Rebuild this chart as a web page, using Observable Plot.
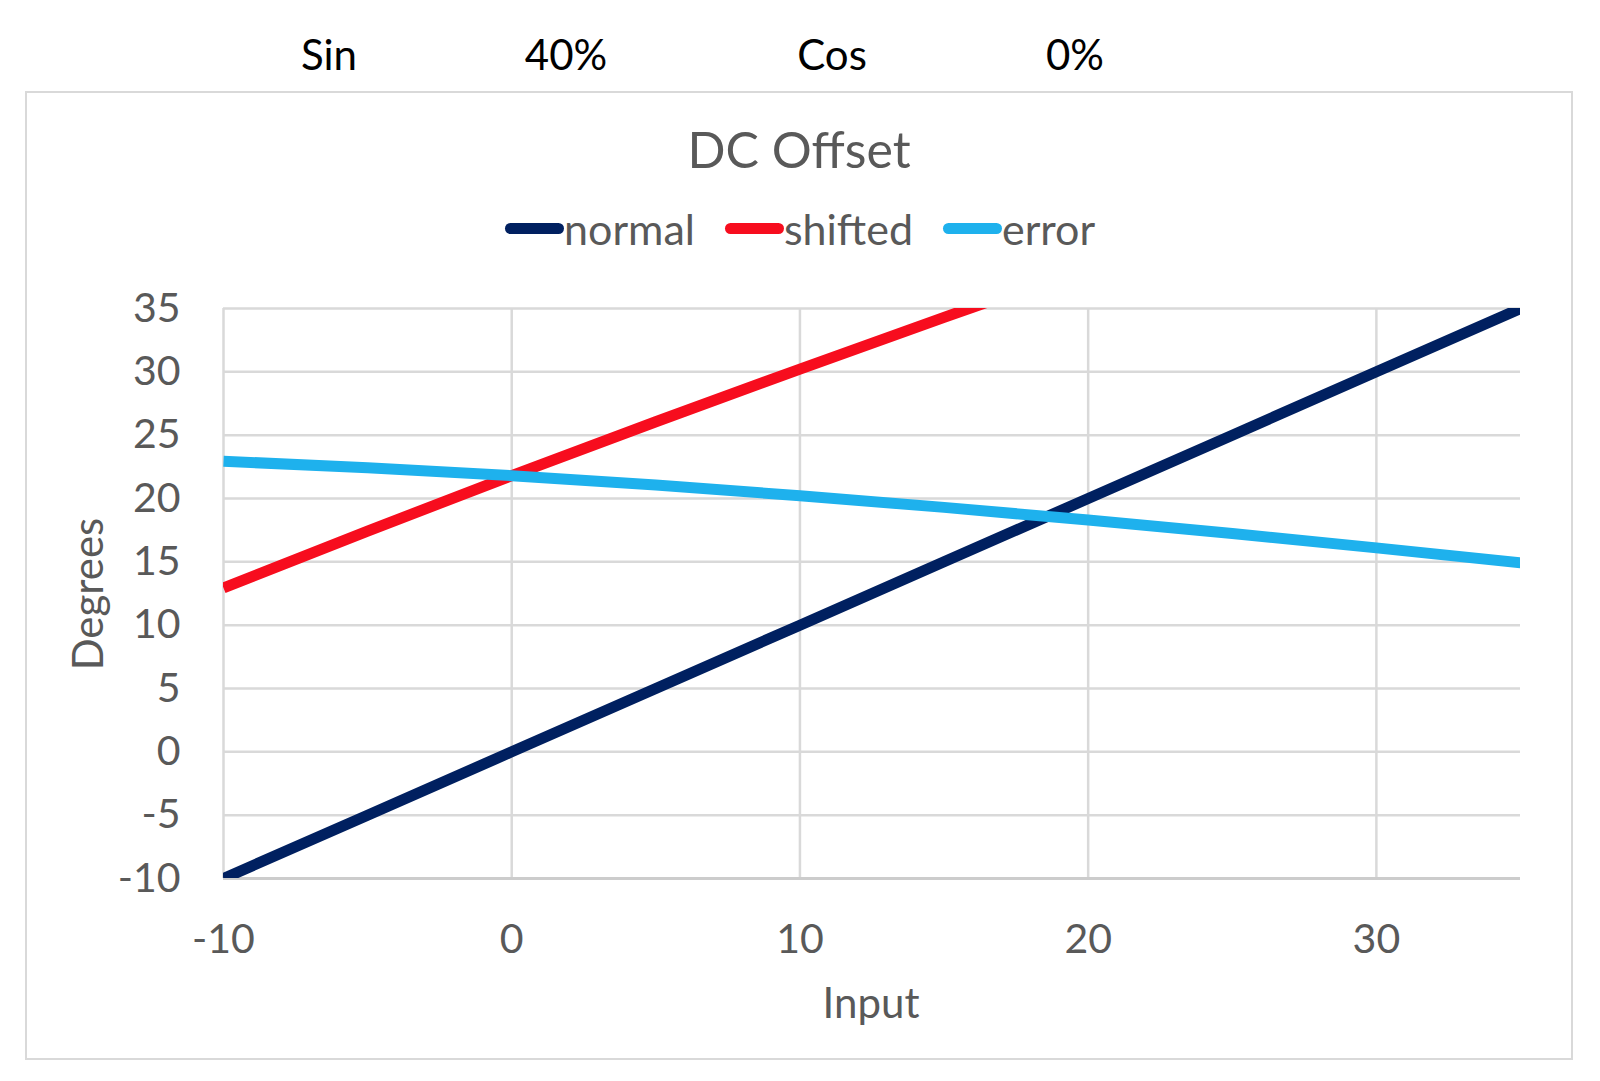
<!DOCTYPE html>
<html>
<head>
<meta charset="utf-8">
<script src="https://cdn.jsdelivr.net/npm/d3@7"></script>
<script src="https://cdn.jsdelivr.net/npm/@observablehq/plot@0.6"></script>
<style>
  html, body { margin: 0; padding: 0; background: #fff; }
  #wrap { position: relative; width: 1600px; height: 1081px; overflow: hidden; font-family: Lato, "Open Sans", sans-serif; }
  .cell { position: absolute; top: 29px; font-size: 42px; color: #000; transform: translateX(-50%); white-space: nowrap; }
  #box { position: absolute; left: 25px; top: 91px; width: 1548px; height: 969px; border: 2.5px solid #d9d9d9; box-sizing: border-box; }
  #title { position: absolute; top: 119px; left: 799px; transform: translateX(-50%); font-size: 50px; color: #595959; white-space: nowrap; }
  #legend { position: absolute; top: 203px; left: 505px; display: flex; align-items: center; font-size: 43px; color: #595959; white-space: nowrap; }
  .sw { display: inline-block; width: 59px; height: 11px; border-radius: 6px; }
  .item { display: flex; align-items: center; margin-right: 30px; }
  .axt { position: absolute; font-size: 42px; color: #595959; white-space: nowrap; line-height: 1; }
  #ylab { left: 87px; top: 594px; transform: translate(-50%, -50%) rotate(-90deg); }
  #xlab { left: 871px; top: 1002px; transform: translate(-50%, -50%); }
  #chart { position: absolute; left: 0; top: 0; }
</style>
</head>
<body>
<div id="wrap">
  <div id="box"></div>
  <div id="cells"></div>
  <div id="title">DC Offset</div>
  <div id="legend"></div>
  <div id="chart"></div>
  <div class="axt" id="ylab">Degrees</div>
  <div class="axt" id="xlab">Input</div>
</div>
<script>
// Top cells
const cellLabels = ["Sin", "40%", "Cos", "0%"];
const cellCenters = [329, 566, 832, 1075];

// Series
const seriesNames = ["normal", "shifted", "error"];
const seriesColors = ["#002060", "#F70D1E", "#1EB1ED"];
const inputs = [-10, -5, 0, 5, 10, 15, 20, 25, 30, 35];
const normal = [-10, -5, 0, 5, 10, 15, 20, 25, 30, 35];
const shifted = [12.94, 17.43, 21.80, 26.06, 30.22, 34.30, 38.30, 42.23, 46.10, 49.92];
const error = [22.94, 22.43, 21.80, 21.06, 20.22, 19.30, 18.30, 17.23, 16.10, 14.92];

const xTicks = [-10, 0, 10, 20, 30];
const yTicks = [-10, -5, 0, 5, 10, 15, 20, 25, 30, 35];

// cells
const cellsDiv = document.getElementById("cells");
cellLabels.forEach((t, i) => {
  const d = document.createElement("div");
  d.className = "cell"; d.textContent = t; d.style.left = cellCenters[i] + "px";
  cellsDiv.appendChild(d);
});

// legend
const leg = document.getElementById("legend");
seriesNames.forEach((n, i) => {
  const it = document.createElement("div"); it.className = "item";
  const sw = document.createElement("span"); sw.className = "sw"; sw.style.background = seriesColors[i];
  const tx = document.createElement("span"); tx.textContent = n;
  it.appendChild(sw); it.appendChild(tx); leg.appendChild(it);
});

const vals = {normal, shifted, error};
const rows = [];
seriesNames.forEach(s => inputs.forEach((x, i) => rows.push({series: s, x, y: vals[s][i]})));

const fmt = d => String(d);

const chart = Plot.plot({
  width: 1600,
  height: 1081,
  marginLeft: 223,
  marginRight: 80,
  marginTop: 308,
  marginBottom: 203,
  style: { fontFamily: "Lato, 'Open Sans', sans-serif", fontSize: "41px", color: "#595959", background: "transparent", overflow: "visible" },
  x: { domain: [-10, 35] },
  y: { domain: [-10, 35] },
  color: { domain: seriesNames, range: seriesColors },
  marks: [
    Plot.gridY(yTicks, { stroke: "#d9d9d9", strokeOpacity: 1, strokeWidth: 2.5 }),
    Plot.gridX(xTicks, { stroke: "#d9d9d9", strokeOpacity: 1, strokeWidth: 2.5 }),
    Plot.ruleY([-10], { stroke: "#cccccc", strokeWidth: 3 }),
    Plot.axisY(yTicks, { tickSize: 0, tickPadding: 43, label: null, tickFormat: fmt, fontSize: 41 }),
    Plot.axisX(xTicks, { tickSize: 0, tickPadding: 45, label: null, tickFormat: fmt, fontSize: 41 }),
    Plot.line(rows, { x: "x", y: "y", z: "series", stroke: "series", strokeWidth: 11, strokeLinecap: "butt", clip: true })
  ]
});
document.getElementById("chart").appendChild(chart);
</script>
</body>
</html>
